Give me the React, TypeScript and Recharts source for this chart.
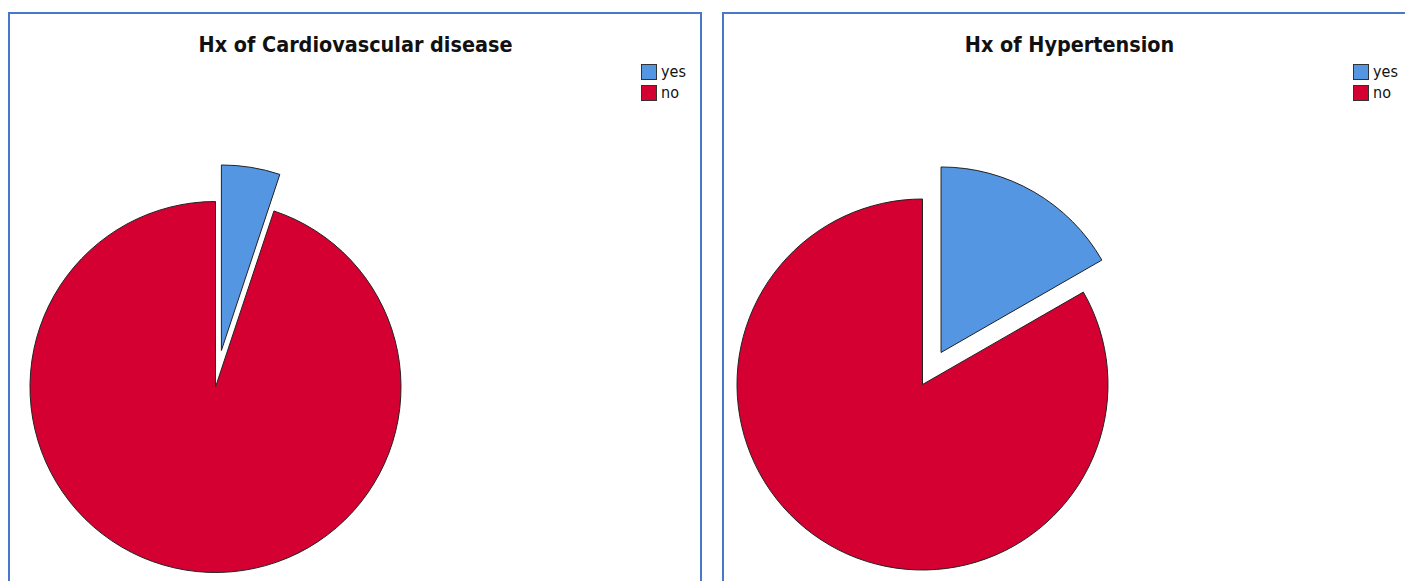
import { Cell, Legend, Pie, PieChart } from "recharts";

const categories = ["yes", "no"];
const cardioValues = [5.1, 94.9];
const hyperValues = [16.7, 83.3];
const colors = ["#5596E3", "#D50032"];

const EXPLODE = 37;
const RADIUS = 185.5;
const FONT = "'DejaVu Sans Condensed', 'DejaVu Sans', sans-serif";

type PanelProps = {
  title: string;
  values: number[];
  left: number;
  cx: number;
  cy: number;
  legendX: number;
};

function SwatchLegend() {
  return (
    <div style={{ fontFamily: FONT, fontSize: 16, color: "#111", lineHeight: "21px" }}>
      {categories.map((name, i) => (
        <div key={name} style={{ display: "flex", alignItems: "center", height: 21 }}>
          <span
            style={{
              display: "inline-block",
              width: 14,
              height: 14,
              background: colors[i],
              border: "1px solid #333",
              marginRight: 4,
            }}
          />
          <span>{name}</span>
        </div>
      ))}
    </div>
  );
}

function PiePanel({ title, values, left, cx, cy, legendX }: PanelProps) {
  const data = categories.map((name, i) => ({ name, value: values[i] }));
  const total = values.reduce((a, b) => a + b, 0);
  // "yes" slice pulled out along its bisector
  const mid = ((90 - (360 * values[0]) / total / 2) * Math.PI) / 180;
  const dx = EXPLODE * Math.cos(mid);
  const dy = -EXPLODE * Math.sin(mid);

  return (
    <div
      style={{
        position: "absolute",
        left,
        top: 12,
        width: 694,
        height: 610,
        border: "2px solid #4A78C8",
        boxSizing: "border-box",
        background: "#fff",
      }}
    >
      <div
        style={{
          position: "absolute",
          left: 345.5 - 300,
          top: 18,
          width: 600,
          textAlign: "center",
          fontFamily: FONT,
          fontWeight: 700,
          fontSize: 21.4,
          color: "#111",
        }}
      >
        {title}
      </div>
      <PieChart width={690} height={606} margin={{ top: 0, right: 0, bottom: 0, left: 0 }}>
        <Legend
          content={() => <SwatchLegend />}
          wrapperStyle={{ position: "absolute", left: legendX, top: 47, width: 60 }}
        />
        <Pie
          data={data}
          dataKey="value"
          nameKey="name"
          cx={cx}
          cy={cy}
          outerRadius={RADIUS}
          startAngle={90}
          endAngle={-270}
          isAnimationActive={false}
        >
          {data.map((_, i) => (
            <Cell key={i} fill={i === 0 ? "none" : colors[i]} stroke={i === 0 ? "none" : "#222"} strokeWidth={1} />
          ))}
        </Pie>
        <Pie
          data={data}
          dataKey="value"
          nameKey="name"
          cx={cx + dx}
          cy={cy + dy}
          outerRadius={RADIUS}
          startAngle={90}
          endAngle={-270}
          isAnimationActive={false}
        >
          {data.map((_, i) => (
            <Cell key={i} fill={i === 0 ? colors[i] : "none"} stroke={i === 0 ? "#222" : "none"} strokeWidth={1} />
          ))}
        </Pie>
      </PieChart>
    </div>
  );
}

export default function App() {
  return (
    <div style={{ position: "absolute", left: 0, top: 0, width: 1405, height: 581, overflow: "hidden", background: "#fff" }}>
      <PiePanel
        title="Hx of Cardiovascular disease"
        values={cardioValues}
        left={8}
        cx={205.5}
        cy={373}
        legendX={631}
      />
      <PiePanel
        title="Hx of Hypertension"
        values={hyperValues}
        left={722}
        cx={198.5}
        cy={370.5}
        legendX={629}
      />
    </div>
  );
}
